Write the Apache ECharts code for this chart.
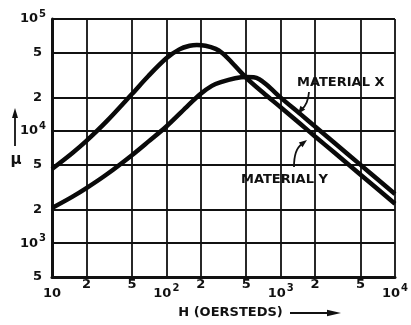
<!DOCTYPE html>
<html>
<head>
<meta charset="utf-8">
<script src="https://cdn.jsdelivr.net/npm/echarts@6/dist/echarts.min.js"></script>
<style>
  html, body { margin: 0; padding: 0; background: #fff; }
  #chart { width: 411px; height: 325px; }
</style>
</head>
<body>
<div id="chart"></div>
<script>
// Permeability (mu) against field strength H, both on log scales.
const hMaterialX = [10, 15, 20, 30, 50, 70, 100, 150, 200, 250, 300, 400, 500, 580, 650, 750, 850, 1000, 1500, 2000, 3000, 5000, 7000, 10000];
const muMaterialX = [2060, 2590, 3100, 4100, 6100, 8100, 11000, 16400, 21500, 25300, 27300, 29600, 30400, 30200, 29000, 26100, 23200, 19900, 14100, 11000, 7760, 5000, 3740, 2750];

const hMaterialY = [10, 15, 20, 30, 50, 70, 100, 130, 160, 185, 220, 270, 310, 350, 500, 700, 1000, 1500, 2000, 3000, 5000, 7000, 10000];
const muMaterialY = [4590, 6350, 8180, 12200, 21400, 31200, 44600, 53600, 57700, 58700, 57800, 54200, 49500, 44000, 29900, 22100, 16300, 11500, 8970, 6340, 4080, 3060, 2250];

const hTicks = [10, 20, 50, 100, 200, 500, 1000, 2000, 5000, 10000];
const muTicks = [500, 1000, 2000, 5000, 10000, 20000, 50000, 100000];

const INK = '#111';
const FONT = 'DejaVu Sans';

function pairs(xs, ys) {
  return xs.map((x, i) => [x, ys[i]]);
}

// Split a tick value into mantissa and decade exponent.
function splitTick(v) {
  const e = Math.floor(Math.log10(v) + 1e-9);
  const m = Math.round(v / Math.pow(10, e));
  return { m, e };
}

function xLabel(v) {
  const { m, e } = splitTick(v);
  if (m !== 1) return '{m|' + m + '}';
  if (e === 1) return '{d|10}';
  return '{d|10}{s|' + e + '}';
}

function yLabel(v) {
  const { m, e } = splitTick(v);
  if (m !== 1) return '{m|' + m + '}';
  return '{d|10}{s|' + e + '}';
}

// Small filled arrowhead pointing from (fx, fy) towards the tip (tx, ty).
function arrowHead(tx, ty, fx, fy, len, half) {
  const dx = tx - fx, dy = ty - fy;
  const d = Math.hypot(dx, dy);
  const ux = dx / d, uy = dy / d;
  const bx = tx - ux * len, by = ty - uy * len;
  return [[tx, ty], [bx - uy * half, by + ux * half], [bx + uy * half, by - ux * half]];
}

const chart = echarts.init(document.getElementById('chart'), null, { renderer: 'canvas' });

const labelBase = { color: INK, fontFamily: FONT, fontWeight: 'bold' };

chart.setOption({
  backgroundColor: '#fff',
  animation: false,
  grid: { left: 52, right: 14, top: 19, bottom: 48 },
  xAxis: {
    type: 'log',
    logBase: 10,
    min: 10,
    max: 10000,
    name: 'H (OERSTEDS)',
    nameLocation: 'middle',
    nameGap: 29,
    nameTextStyle: { color: INK, fontFamily: FONT, fontWeight: 'bold', fontSize: 13, padding: [0, 0, 0, 14] },
    axisLine: { show: true, lineStyle: { color: INK, width: 3 } },
    axisTick: { show: false, customValues: hTicks },
    splitLine: { show: true, lineStyle: { color: INK, width: 1.8 } },
    axisLabel: {
      customValues: hTicks,
      margin: 1,
      formatter: xLabel,
      rich: {
        m: Object.assign({ fontSize: 13, verticalAlign: 'top' }, labelBase),
        d: Object.assign({ fontSize: 13, verticalAlign: 'top', padding: [9, 0, 0, 0] }, labelBase),
        s: Object.assign({ fontSize: 10, verticalAlign: 'top', padding: [5, 0, 0, 1] }, labelBase)
      }
    }
  },
  yAxis: {
    type: 'log',
    logBase: 10,
    min: 500,
    max: 100000,
    axisLine: { show: true, lineStyle: { color: INK, width: 3 } },
    axisTick: { show: false, customValues: muTicks },
    splitLine: { show: true, lineStyle: { color: INK, width: 1.8 } },
    axisLabel: {
      customValues: muTicks,
      margin: 6,
      formatter: yLabel,
      rich: {
        m: Object.assign({ fontSize: 13, padding: [0, 4, 0, 0] }, labelBase),
        d: Object.assign({ fontSize: 13 }, labelBase),
        s: Object.assign({ fontSize: 10, padding: [0, 0, 10, 1] }, labelBase)
      }
    }
  },
  series: [
    {
      name: 'MATERIAL X',
      type: 'line',
      data: pairs(hMaterialX, muMaterialX),
      smooth: 0.3,
      showSymbol: false,
      lineStyle: { color: '#0a0a0a', width: 4.5 },
      z: 3
    },
    {
      name: 'MATERIAL Y',
      type: 'line',
      data: pairs(hMaterialY, muMaterialY),
      smooth: 0.3,
      showSymbol: false,
      lineStyle: { color: '#0a0a0a', width: 4.5 },
      z: 3
    }
  ],
  graphic: [
    // mu axis title with its upward arrow
    { type: 'text', x: 16, y: 160, style: { text: 'μ', fill: INK, font: 'bold 15px "DejaVu Sans"', textAlign: 'center', textVerticalAlign: 'middle', align: 'center', verticalAlign: 'middle' } },
    { type: 'line', shape: { x1: 15, y1: 146, x2: 15, y2: 116 }, style: { stroke: INK, lineWidth: 1.8 } },
    { type: 'polygon', shape: { points: arrowHead(15, 108, 15, 140, 10, 3) }, style: { fill: INK } },
    // arrow after the H axis title
    { type: 'line', shape: { x1: 290, y1: 313, x2: 330, y2: 313 }, style: { stroke: INK, lineWidth: 1.8 } },
    { type: 'polygon', shape: { points: arrowHead(341, 313, 300, 313, 14, 3.2) }, style: { fill: INK } },
    // curve callouts
    { type: 'text', x: 297, y: 83, style: { text: 'MATERIAL X', fill: INK, font: 'bold 13px "DejaVu Sans"', textAlign: 'left', textVerticalAlign: 'middle', align: 'left', verticalAlign: 'middle' } },
    { type: 'bezierCurve', shape: { x1: 309, y1: 92, cpx1: 308, cpy1: 104, x2: 302, y2: 109 }, style: { stroke: INK, lineWidth: 1.8, fill: null } },
    { type: 'polygon', shape: { points: arrowHead(298, 114, 304, 106, 8, 3) }, style: { fill: INK } },
    { type: 'text', x: 241, y: 180, style: { text: 'MATERIAL Y', fill: INK, font: 'bold 13px "DejaVu Sans"', textAlign: 'left', textVerticalAlign: 'middle', align: 'left', verticalAlign: 'middle' } },
    { type: 'bezierCurve', shape: { x1: 294, y1: 167, cpx1: 294, cpy1: 149, x2: 302, y2: 144 }, style: { stroke: INK, lineWidth: 1.8, fill: null } },
    { type: 'polygon', shape: { points: arrowHead(307, 140, 298, 147, 8, 3) }, style: { fill: INK } }
  ]
});
</script>
</body>
</html>
